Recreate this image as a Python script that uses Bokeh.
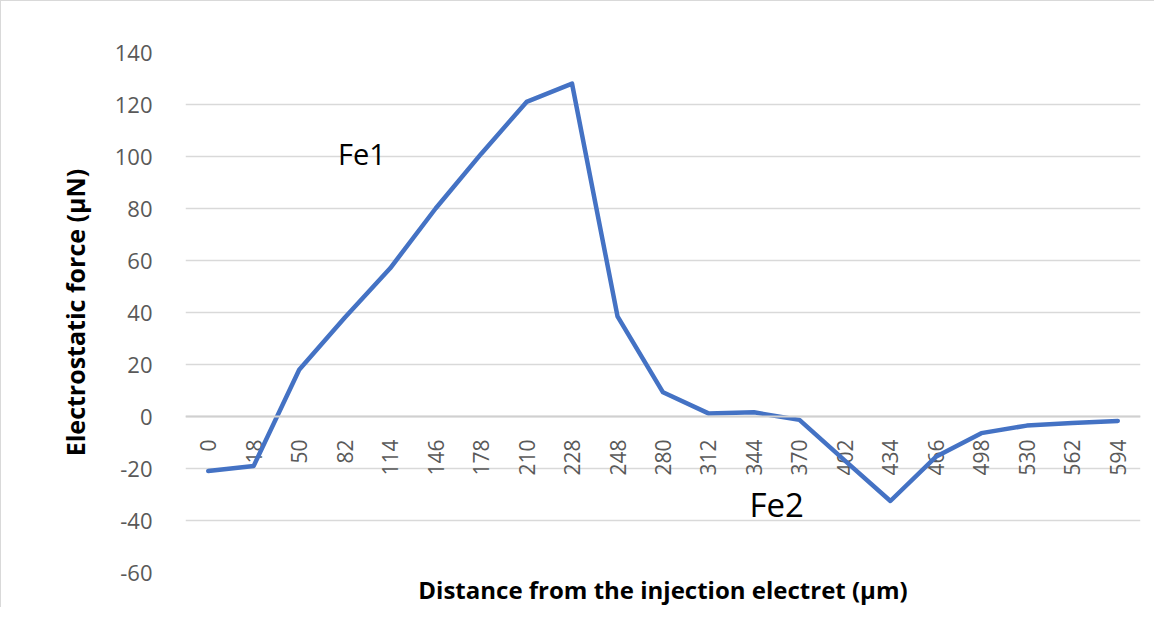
import math
from bokeh.plotting import figure
from bokeh.models import Range1d, FixedTicker, Label, Span, ColumnDataSource
from bokeh.core.properties import value
from bokeh.embed import file_html
from bokeh.resources import INLINE

# ---- data ----
distance_labels = ["0", "18", "50", "82", "114", "146", "178", "210", "228", "248",
                   "280", "312", "344", "370", "402", "434", "466", "498", "530", "562", "594"]
force_uN = [-21, -19, 18, 38, 57, 80, 101, 121, 128, 38.5,
            9.3, 1.2, 1.6, -1.3, -17, -32.5, -15.5, -6.4, -3.5, -2.5, -1.7]
y_ticks = [-60, -40, -20, 0, 20, 40, 60, 80, 100, 120, 140]
annotations = ["Fe1", "Fe2"]
x_title = "Distance from the injection electret (µm)"
y_title = "Electrostatic force (µN)"

idx = list(range(len(distance_labels)))
src = ColumnDataSource(dict(x=idx, y=force_uN, label=distance_labels, zero=[0] * len(idx)))

p = figure(width=1154, height=607, output_backend="svg", toolbar_location=None,
           x_range=Range1d(-0.5, len(idx) - 0.5), y_range=Range1d(-60, 140),
           min_border_left=184, min_border_right=15, min_border_top=51, min_border_bottom=32)
p.styles = {"border-top": "1px solid #d9d9d9", "border-left": "1px solid #d9d9d9"}
p.outline_line_color = None
p.background_fill_color = "white"
p.border_fill_color = "white"

# y axis
p.yaxis.ticker = FixedTicker(ticks=y_ticks)
p.yaxis.major_label_overrides = {t: str(t) for t in y_ticks}
p.yaxis.axis_line_color = None
p.yaxis.major_tick_line_color = None
p.yaxis.minor_tick_line_color = None
p.yaxis.major_tick_out = 0
p.yaxis.major_tick_in = 0
p.yaxis.major_label_standoff = 33
p.yaxis.major_label_text_font = "Open Sans"
p.yaxis.major_label_text_font_size = "22px"
p.yaxis.major_label_text_color = "#595959"
p.yaxis.axis_label = y_title
p.yaxis.axis_label_text_font = "Open Sans"
p.yaxis.axis_label_text_font_style = "bold"
p.yaxis.axis_label_text_font_size = "25px"
p.yaxis.axis_label_text_color = "black"
p.yaxis.axis_label_standoff = 20

# x axis: title only (category labels drawn along the zero line)
p.xaxis.ticker = FixedTicker(ticks=[])
p.xaxis.axis_line_color = None
p.xaxis.major_tick_line_color = None
p.xaxis.minor_tick_line_color = None
p.xaxis.major_tick_out = 0
p.xaxis.major_tick_in = 0
p.xaxis.major_label_standoff = 0
p.xaxis.axis_label = x_title
p.xaxis.axis_label_text_font = "Open Sans"
p.xaxis.axis_label_text_font_style = "bold"
p.xaxis.axis_label_text_font_size = "24px"
p.xaxis.axis_label_text_color = "black"
p.xaxis.axis_label_standoff = 0

# grid
p.xgrid.visible = False
p.ygrid.grid_line_color = "#d9d9d9"
p.ygrid.grid_line_width = 1.3

p.add_layout(Span(location=0, dimension="width", line_color="#d0d0d0", line_width=2.2))

# category labels along the zero line
p.text(x="x", y="zero", text="label", source=src, angle=math.pi / 2,
       text_align="right", text_baseline="middle", y_offset=23,
       text_font=value("Open Sans"), text_font_size="21px", text_color="#595959")

# series
p.line(x="x", y="y", source=src, line_color="#4472C4", line_width=4.5,
       line_join="round", line_cap="round")

# annotations
p.add_layout(Label(x=3.38, y=101, text=annotations[0], text_align="center",
                   text_baseline="middle", text_font="Open Sans", text_font_size="29px",
                   text_color="black"))
p.add_layout(Label(x=12.5, y=-34, text=annotations[1], text_align="center",
                   text_baseline="middle", text_font="Open Sans", text_font_size="33px",
                   text_color="black"))

open("out.html", "w").write(file_html(p, INLINE))
